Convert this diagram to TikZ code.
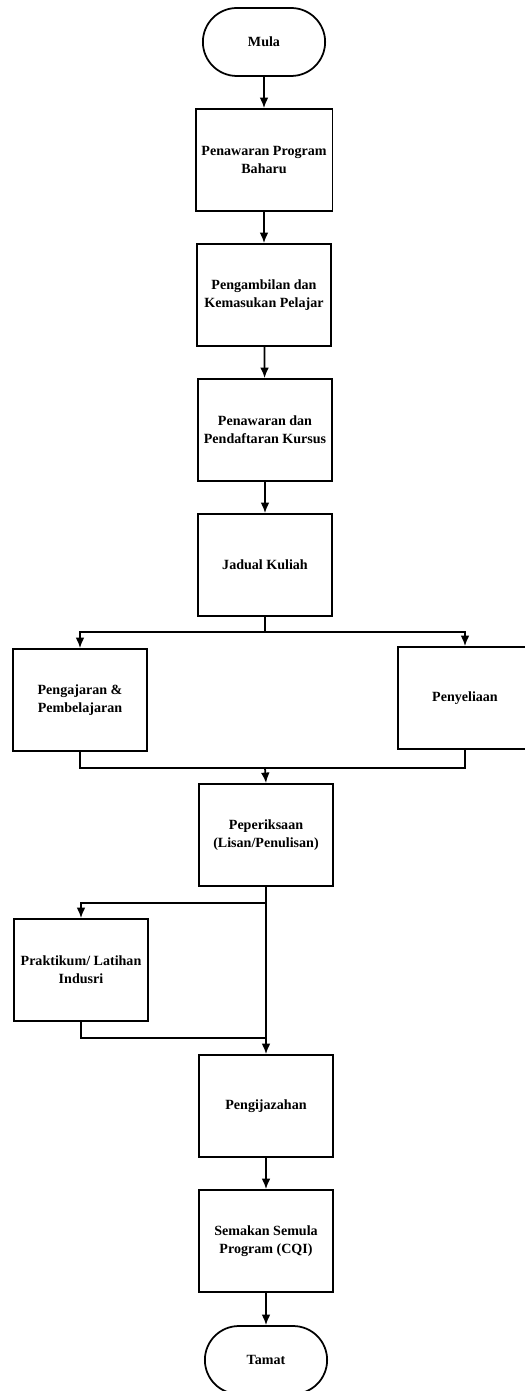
\documentclass[tikz,border=0pt]{standalone}
\usepackage{fontspec}
\setmainfont{Liberation Serif}
\usepackage{tikz}
\usetikzlibrary{shapes.misc, arrows.meta}
\tikzset{
	process/.style = {
		draw,
		rectangle,
		line width=1pt,
		minimum width=2.68cm,
		minimum height=2.04cm,
		align=center,
		font=\fontsize{8}{10.2}\selectfont\bfseries
	},
	terminal/.style = {
		draw,
		rounded rectangle,
		line width=1pt,
		minimum width=2.68cm,
		minimum height=1.36cm,
		font=\fontsize{8}{10.2}\selectfont\bfseries
	},
	flow/.style = {
		line width=1pt,
		black
	}
}
\tikzstyle{arrow} = [flow, -{Latex[length=6pt, width=5pt]}]

\begin{document}
\begin{tikzpicture}[x=0.02cm, y=-0.02cm]
		\useasboundingbox (0,0) rectangle (524,1391);
		% main column
		\node[terminal] (mula) at (264,42) {Mula};
		\node[process] (tawar) at (264,160) {Penawaran Program\\Baharu};
		\node[process] (ambil) at (264,295) {Pengambilan dan\\Kemasukan Pelajar};
		\node[process] (daftar) at (265,430) {Penawaran dan\\Pendaftaran Kursus};
		\node[process] (jadual) at (265,565) {Jadual Kuliah};
		\node[process] (ajar) at (80,700) {Pengajaran \&\\Pembelajaran};
		\node[process] (selia) at (465,698) {Penyeliaan};
		\node[process] (periksa) at (266,835) {Peperiksaan\\(Lisan/Penulisan)};
		\node[process] (praktikum) at (81,970) {Praktikum/ Latihan\\Indusri};
		\node[process] (ijazah) at (266,1106) {Pengijazahan};
		\node[process] (semak) at (266,1241) {Semakan Semula\\Program (CQI)};
		\node[terminal] (tamat) at (266,1360) {Tamat};
		
		\coordinate (split1) at (265,632);
		\coordinate (join1) at (265,768);
		\coordinate (split2) at (266,903);
		\coordinate (join2) at (266,1038);
		
		\draw[arrow] (mula) -- (tawar);
		\draw[arrow] (tawar) -- (ambil);
		\draw[arrow] (ambil) -- (daftar);
		\draw[arrow] (daftar) -- (jadual);
		
		\draw[flow] (jadual.south) -- (split1);
		\draw[arrow] (split1) -| (ajar.north);
		\draw[arrow] (split1) -| (selia.north);
		\draw[flow] (ajar.south) |- (join1);
		\draw[flow] (selia.south) |- (join1);
		\draw[arrow] (join1) -- (periksa.north);
		
		\draw[arrow] (periksa.south) -- (ijazah.north);
		\draw[arrow] (split2) -| (praktikum.north);
		\draw[flow] (praktikum.south) |- (join2);
		
		\draw[arrow] (ijazah) -- (semak);
		\draw[arrow] (semak) -- (tamat);
	\end{tikzpicture}
\end{document}
